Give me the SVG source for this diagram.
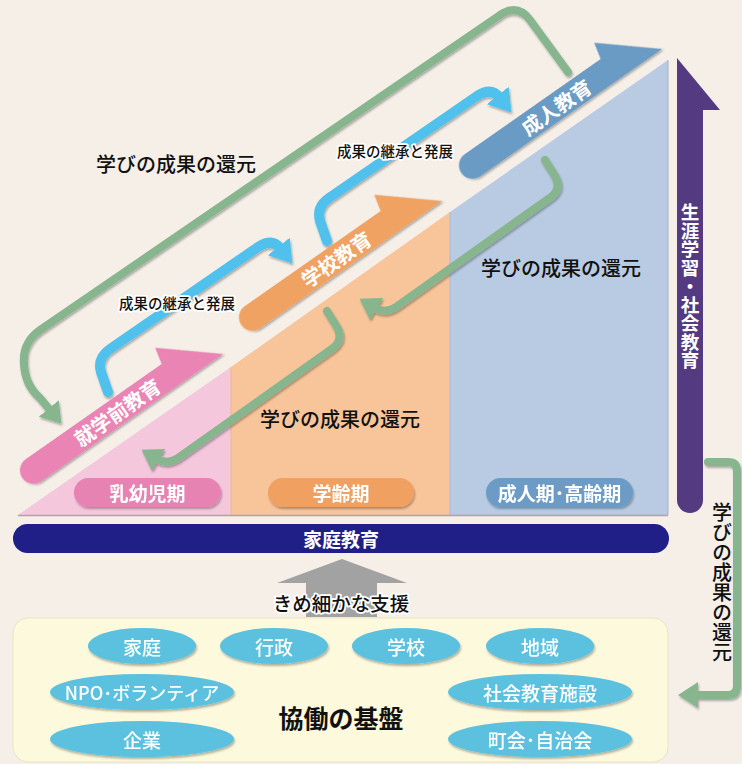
<svg xmlns="http://www.w3.org/2000/svg" width="742" height="764" viewBox="0 0 742 764">
<defs>
<style>
text{font-family:"Noto Sans CJK JP","Noto Sans",sans-serif;}
.lbl{font-size:20px;fill:#111;font-weight:500;text-anchor:middle;dominant-baseline:central}
.halo{font-size:14.5px;fill:#111;font-weight:500;text-anchor:middle;dominant-baseline:central;stroke:#fff;stroke-width:3.5;paint-order:stroke;stroke-linejoin:round}
.wt{fill:#fff;text-anchor:middle;dominant-baseline:central;font-weight:700}
.wr{fill:#fff;text-anchor:middle;dominant-baseline:central;font-weight:500;font-size:19px}
.green{fill:none;stroke:#86b58e;stroke-width:8;stroke-linecap:round;stroke-linejoin:round}
.blue{fill:none;stroke:#4fc1ec;stroke-width:10;stroke-linecap:round;stroke-linejoin:round}
.ell{fill:#5bc1df}
.vt{writing-mode:vertical-rl;text-anchor:middle}
</style>
<filter id="sh" x="-10%" y="-10%" width="130%" height="140%"><feDropShadow dx="1" dy="2" stdDeviation="1.2" flood-color="#000" flood-opacity="0.3"/></filter>
<marker id="gh" markerUnits="userSpaceOnUse" viewBox="-2 -13 20 26" refX="0" refY="0" markerWidth="20" markerHeight="26" orient="auto"><path d="M-2,-13 L18,0 L-2,13 Z" fill="#86b58e"/></marker>
<marker id="bh" markerUnits="userSpaceOnUse" viewBox="-2 -14 22 28" refX="0" refY="0" markerWidth="22" markerHeight="28" orient="auto"><path d="M-2,-14 L20,0 L-2,14 Z" fill="#4fc1ec"/></marker>
<path id="band" d="M0,0 L-222,0 A13.5,13.5 0 0 1 -222,-27 L-56,-27 L-52,-44 Z"/>
<path id="gsmall" class="green" d="M327,311 L337,327 Q344,340 333,348 L178,458 Q167,465 157,459" marker-end="url(#gh)"/>
<path id="bsmall" class="blue" d="M108,392 L101,372 Q97,358 110,349 L258,247 Q272,238 280,248" marker-end="url(#bh)"/>
</defs>

<rect x="0" y="0" width="742" height="764" fill="#f5efe8"/>

<g id="regions">
  <polygon points="18,515 231,367 231,515" fill="#f4c7dd"/>
  <polygon points="231,367 450,212 450,515 231,515" fill="#f8c59b"/>
  <polygon points="450,212 668,60 668,515 450,515" fill="#b9cbe2"/>
  <line x1="231" y1="367" x2="231" y2="515" stroke="#f1b58a" stroke-width="1"/>
  <line x1="450" y1="212" x2="450" y2="515" stroke="#a9bcd6" stroke-width="1"/>
  <line x1="668" y1="60" x2="668" y2="515" stroke="#a2b4cc" stroke-width="1"/>
  <line x1="18" y1="515.5" x2="668" y2="515.5" stroke="#b3a0ac" stroke-width="1.5"/>
</g>

<g id="connectors">
  <g filter="url(#sh)">
    <path class="green" d="M568,72 L530,20 Q519,5 503,13 L40,330 Q22,343 24,364 Q25,385 40,398 L50,410" marker-end="url(#gh)"/>
    <use href="#gsmall"/>
    <use href="#gsmall" transform="translate(218,-151)"/>
    <path class="green" d="M708,462 L728,462 Q737,462 737,471 L737,686 Q737,695 728,695 L696,695" marker-end="url(#gh)"/>
    <use href="#bsmall"/>
    <use href="#bsmall" transform="translate(219,-151)"/>
  </g>
  <g id="support">
    <polygon points="342,559 407,583 377,583 377,617 306,617 306,583 277,583" fill="#a2a2a2"/>
  </g>
</g>

<g id="preschool" transform="translate(223,354) rotate(-35)" >
  <use href="#band" fill="#e984b4" filter="url(#sh)"/>
  <text class="wt" x="-120" y="-13.5" font-size="20">就学前教育</text>
</g>
<g id="school" transform="translate(442,201) rotate(-35)">
  <use href="#band" fill="#f0a263" filter="url(#sh)"/>
  <text class="wt" x="-120" y="-13.5" font-size="20">学校教育</text>
</g>
<g id="adult" transform="translate(662,49) rotate(-35)">
  <use href="#band" fill="#6a9bc4" filter="url(#sh)"/>
  <text class="wt" x="-120" y="-13.5" font-size="20">成人教育</text>
</g>

<g id="labels">
  <text class="lbl" x="176" y="163">学びの成果の還元</text>
  <text class="lbl" x="561" y="267">学びの成果の還元</text>
  <text class="lbl" x="340" y="418">学びの成果の還元</text>
  <text class="halo" x="395" y="150">成果の継承と発展</text>
  <text class="halo" x="177" y="302">成果の継承と発展</text>
  <text class="lbl vt" x="722" y="582" font-size="19">学びの成果の還元</text>
</g>

<g id="infant-period" filter="url(#sh)">
  <rect x="74" y="478" width="147" height="29" rx="14.5" fill="#e683b2"/>
  <text class="wt" x="147.5" y="492.5" font-size="19">乳幼児期</text>
</g>
<g id="school-period" filter="url(#sh)">
  <rect x="268" y="478" width="146" height="29" rx="14.5" fill="#f0a060"/>
  <text class="wt" x="341" y="492.5" font-size="19">学齢期</text>
</g>
<g id="adult-period" filter="url(#sh)">
  <rect x="486" y="478" width="147" height="29" rx="14.5" fill="#6c9cc6"/>
  <text class="wt" x="559.5" y="492.5" font-size="19">成人期･高齢期</text>
</g>

<g id="lifelong">
  <path d="M677,58 L720,110 L703,110 L703,500 A13,13 0 0 1 677,500 Z" fill="#543a81"/>
  <text class="wt vt" x="690" y="286" font-size="18.5">生涯学習・社会教育</text>
</g>

<g id="family-education">
  <rect x="13" y="524" width="656" height="29" rx="14.5" fill="#1f1f87"/>
  <text class="wt" x="341" y="538.5" font-size="19" font-weight="500">家庭教育</text>
</g>

<g id="support-label">
  <text class="halo" x="341" y="602" font-size="19.5" style="font-size:19.5px">きめ細かな支援</text>
</g>

<g id="foundation">
  <rect x="13" y="618" width="655" height="144" rx="15" fill="#fdf9dd" stroke="#e9e3c6" stroke-width="1"/>
  <text x="341" y="717" font-size="25" font-weight="700" fill="#111" text-anchor="middle" dominant-baseline="central">協働の基盤</text>
</g>

<g id="katei" filter="url(#sh)"><ellipse class="ell" cx="142" cy="646" rx="54" ry="18"/><text class="wr" x="142" y="646">家庭</text></g>
<g id="gyosei" filter="url(#sh)"><ellipse class="ell" cx="274" cy="646" rx="54" ry="18"/><text class="wr" x="274" y="646">行政</text></g>
<g id="gakko" filter="url(#sh)"><ellipse class="ell" cx="406" cy="646" rx="54" ry="18"/><text class="wr" x="406" y="646">学校</text></g>
<g id="chiiki" filter="url(#sh)"><ellipse class="ell" cx="540" cy="646" rx="54" ry="18"/><text class="wr" x="540" y="646">地域</text></g>
<g id="npo" filter="url(#sh)"><ellipse class="ell" cx="142" cy="692" rx="92" ry="18"/><text class="wr" x="142" y="692" style="font-size:18px">NPO･ボランティア</text></g>
<g id="kigyo" filter="url(#sh)"><ellipse class="ell" cx="142" cy="739" rx="92" ry="18"/><text class="wr" x="142" y="739">企業</text></g>
<g id="shisetsu" filter="url(#sh)"><ellipse class="ell" cx="540" cy="692" rx="92" ry="18"/><text class="wr" x="540" y="692">社会教育施設</text></g>
<g id="chokai" filter="url(#sh)"><ellipse class="ell" cx="540" cy="739" rx="92" ry="18"/><text class="wr" x="540" y="739">町会･自治会</text></g>
</svg>
